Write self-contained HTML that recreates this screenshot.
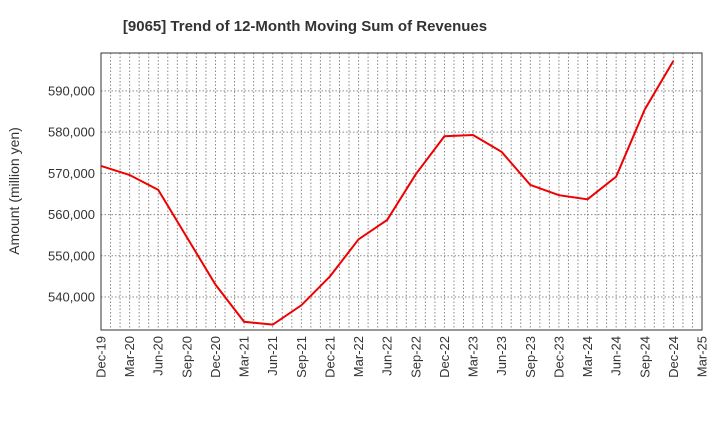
<!DOCTYPE html>
<html><head><meta charset="utf-8"><style>body{margin:0;background:#fff}svg{font-family:"Liberation Sans",sans-serif}</style></head>
<body>
<svg id="c" width="720" height="440">
<text x="305" y="31" text-anchor="middle" font-size="15" font-weight="bold" fill="#333">[9065]  Trend of 12-Month Moving Sum of Revenues</text>
<text transform="translate(19,191) rotate(-90)" text-anchor="middle" font-size="14" fill="#333">Amount (million yen)</text>
<g id="grid"></g><g id="axes"></g><g id="series"></g>
</svg>
<script>
const categories=["Dec-19","Mar-20","Jun-20","Sep-20","Dec-20","Mar-21","Jun-21","Sep-21","Dec-21","Mar-22","Jun-22","Sep-22","Dec-22","Mar-23","Jun-23","Sep-23","Dec-23","Mar-24","Jun-24","Sep-24","Dec-24","Mar-25"];
const revenues=[571800,569600,566000,554500,543000,534000,533300,538000,545000,554000,558700,569800,579000,579300,575200,567200,564700,563700,569200,585500,597300];
const yTicks=[540000,550000,560000,570000,580000,590000];
const L=101,R=702,T=53,B=330,yMin=532000,yMax=599200;
const NS="http://www.w3.org/2000/svg";
const xs=i=>L+(R-L)*i/(categories.length-1);
const ys=v=>B-(v-yMin)/(yMax-yMin)*(B-T);
function mk(t,a,p){const e=document.createElementNS(NS,t);for(const k in a)e.setAttribute(k,a[k]);p.appendChild(e);return e;}
const g=document.getElementById('grid'),ax=document.getElementById('axes'),s=document.getElementById('series');
const months=(categories.length-1)*3;
for(let m=1;m<months;m++){const x=L+(R-L)*m/months;
const l=mk('line',{x1:x,x2:x,y1:T,y2:B,stroke:'#888','stroke-dasharray':'1.5,2','stroke-width':1},g);

}
yTicks.forEach(v=>{const y=ys(v);
const l=mk('line',{x1:L,x2:R,y1:y,y2:y,stroke:'#888','stroke-dasharray':'1.5,2','stroke-width':1},g);


const t=mk('text',{x:L-6,y:y+4.5,'text-anchor':'end','font-size':13,fill:'#333'},ax);t.textContent=v.toLocaleString('en-US');

});
categories.forEach((c,i)=>{const x=xs(i);
const t=mk('text',{transform:`translate(${x+4.5},${B+6}) rotate(-90)`,'text-anchor':'end','font-size':13,fill:'#333'},ax);t.textContent=c;

});
const f=mk('rect',{x:L,y:T,width:R-L,height:B-T,fill:'none',stroke:'#333','stroke-width':1},ax);


const p=mk('polyline',{points:revenues.map((v,i)=>xs(i)+','+ys(v)).join(' '),fill:'none',stroke:'#e00','stroke-width':2},s);


</script>
</body></html>
